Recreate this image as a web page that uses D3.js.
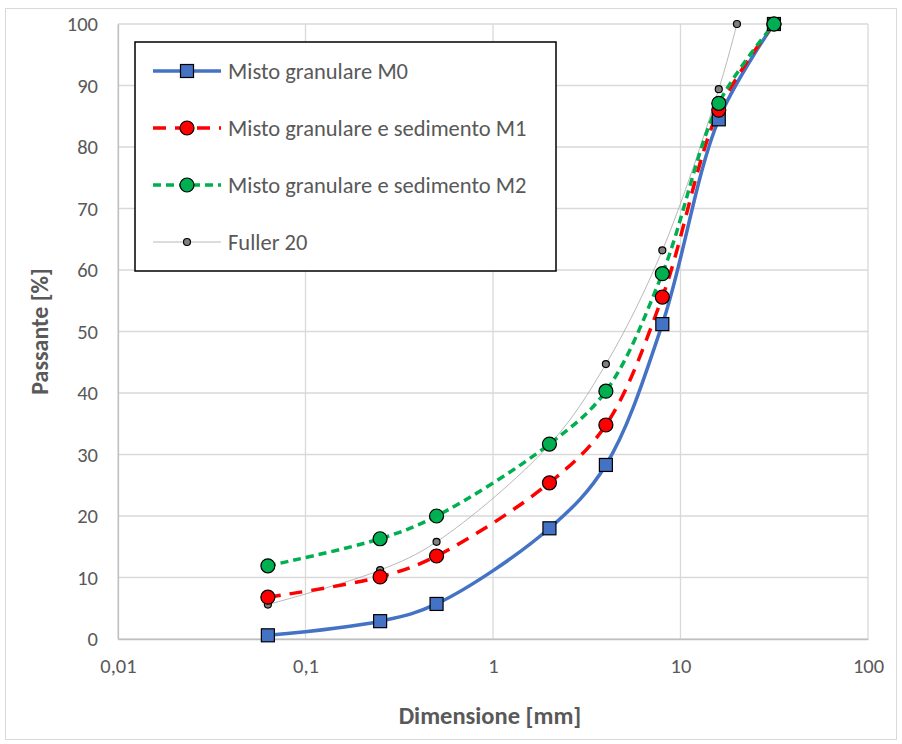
<!DOCTYPE html>
<html>
<head>
<meta charset="utf-8">
<script src="https://cdn.jsdelivr.net/npm/d3@7"></script>
<style>
body { margin: 0; background: #fff; }
text { font-family: Carlito, Calibri, Lato, sans-serif; }
</style>
</head>
<body>
<script>
// setacci (mm) e passante (%)
var sieves = [0.063, 0.25, 0.5, 2, 4, 8, 16, 31.5];
var m0 = [0.6, 2.9, 5.7, 18.0, 28.3, 51.2, 84.5, 100];
var m1 = [6.8, 10.1, 13.5, 25.4, 34.8, 55.6, 86.0, 100];
var m2 = [11.9, 16.3, 20.0, 31.7, 40.3, 59.4, 87.1, 100];
var fullerSizes = [0.063, 0.25, 0.5, 2, 4, 8, 16, 20];
var fuller = [5.6, 11.2, 15.8, 31.6, 44.7, 63.2, 89.4, 100];

var xTicks = [0.01, 0.1, 1, 10, 100];
var xTickLabels = ["0,01", "0,1", "1", "10", "100"];
var yTicks = [0, 10, 20, 30, 40, 50, 60, 70, 80, 90, 100];

var w = 902, h = 744;
var mLeft = 118, mRight = 868, mTop = 24, mBottom = 639;

var svg = d3.select("body")
    .append("svg")
    .attr("width", w)
    .attr("height", h);

svg.append("rect")
    .attr("x", 5.5).attr("y", 8.5)
    .attr("width", 891).attr("height", 731)
    .style("fill", "white")
    .style("stroke", "#d9d9d9");

var x = d3.scaleLog().domain([0.01, 100]).range([mLeft, mRight]);
var y = d3.scaleLinear().domain([0, 100]).range([mBottom, mTop]);

// griglia
svg.append("g").selectAll("line")
    .data(yTicks)
    .enter().append("line")
    .attr("x1", mLeft).attr("x2", mRight)
    .attr("y1", function(d) { return y(d); })
    .attr("y2", function(d) { return y(d); })
    .style("stroke", "#d9d9d9")
    .style("stroke-width", 1.3);

svg.append("g").selectAll("line")
    .data(xTicks)
    .enter().append("line")
    .attr("x1", function(d) { return x(d); })
    .attr("x2", function(d) { return x(d); })
    .attr("y1", mTop).attr("y2", mBottom)
    .style("stroke", "#d9d9d9")
    .style("stroke-width", 1.3);

// assi
var yAxis = d3.axisLeft(y).tickValues(yTicks).tickSize(0).tickPadding(20);
var gy = svg.append("g").attr("transform", "translate(" + mLeft + ",0)").call(yAxis);
gy.select(".domain").style("stroke", "#bfbfbf").style("stroke-width", 1.3);
gy.selectAll("text").style("font-size", "20.5px").style("fill", "#595959");

var xAxis = d3.axisBottom(x).tickValues(xTicks).tickSize(0).tickPadding(19)
    .tickFormat(function(d, i) { return xTickLabels[i]; });
var gx = svg.append("g").attr("transform", "translate(0," + mBottom + ")").call(xAxis);
gx.select(".domain").style("stroke", "#bfbfbf").style("stroke-width", 1.3);
gx.selectAll("text").style("font-size", "20.5px").style("fill", "#595959");

svg.append("text")
    .attr("x", (mLeft + mRight) / 2 - 3).attr("y", 724)
    .attr("text-anchor", "middle")
    .style("font-size", "24.5px").style("font-weight", "bold").style("fill", "#595959")
    .text("Dimensione [mm]");

svg.append("text")
    .attr("transform", "translate(48," + ((mTop + mBottom) / 2) + ") rotate(-90)")
    .attr("text-anchor", "middle")
    .style("font-size", "24px").style("font-weight", "bold").style("fill", "#595959")
    .text("Passante [%]");

// serie
var series = [
    { name: "Fuller 20", xs: fullerSizes, ys: fuller, color: "#a6a6a6", width: 0.8, dash: null,
      marker: "circle", fill: "#808080", size: 3.5 },
    { name: "Misto granulare M0", xs: sieves, ys: m0, color: "#4472c4", width: 3.5, dash: null,
      marker: "square", fill: "#4472c4", size: 13 },
    { name: "Misto granulare e sedimento M1", xs: sieves, ys: m1, color: "#ff0000", width: 3.5, dash: "13,9",
      marker: "circle", fill: "#ff0000", size: 7 },
    { name: "Misto granulare e sedimento M2", xs: sieves, ys: m2, color: "#00b050", width: 3.5, dash: "8,5",
      marker: "circle", fill: "#00b050", size: 7 }
];

var line = d3.line()
    .x(function(d) { return x(d[0]); })
    .y(function(d) { return y(d[1]); })
    .curve(d3.curveCatmullRom.alpha(0.5));

series.forEach(function(s) {
    var pts = s.xs.map(function(v, i) { return [v, s.ys[i]]; });
    svg.append("path")
        .attr("d", line(pts))
        .style("fill", "none")
        .style("stroke", s.color)
        .style("stroke-width", s.width)
        .style("stroke-dasharray", s.dash);
});

function drawMarker(g, s, cx, cy) {
    if (s.marker == "square") {
        g.append("rect")
            .attr("x", cx - s.size / 2).attr("y", cy - s.size / 2)
            .attr("width", s.size).attr("height", s.size)
            .style("fill", s.fill).style("stroke", "#000").style("stroke-width", 1.2);
    } else {
        g.append("circle")
            .attr("cx", cx).attr("cy", cy).attr("r", s.size)
            .style("fill", s.fill).style("stroke", "#000").style("stroke-width", 1.2);
    }
}

series.forEach(function(s) {
    var g = svg.append("g");
    s.xs.forEach(function(v, i) { drawMarker(g, s, x(v), y(s.ys[i])); });
});

// legenda
var lg = svg.append("g");
lg.append("rect")
    .attr("x", 135).attr("y", 42)
    .attr("width", 421).attr("height", 229)
    .style("fill", "white").style("stroke", "#000").style("stroke-width", 1.5);

var legendOrder = [1, 2, 3, 0];
legendOrder.forEach(function(k, i) {
    var s = series[k];
    var cy = 71 + i * 57;
    lg.append("line")
        .attr("x1", 153).attr("x2", 221)
        .attr("y1", cy).attr("y2", cy)
        .style("stroke", s.color)
        .style("stroke-width", s.width)
        .style("stroke-dasharray", s.dash);
    drawMarker(lg, s, 187, cy);
    lg.append("text")
        .attr("x", 228).attr("y", cy + 7.5)
        .style("font-size", "22.5px").style("fill", "#595959")
        .text(s.name);
});
</script>
</body>
</html>
